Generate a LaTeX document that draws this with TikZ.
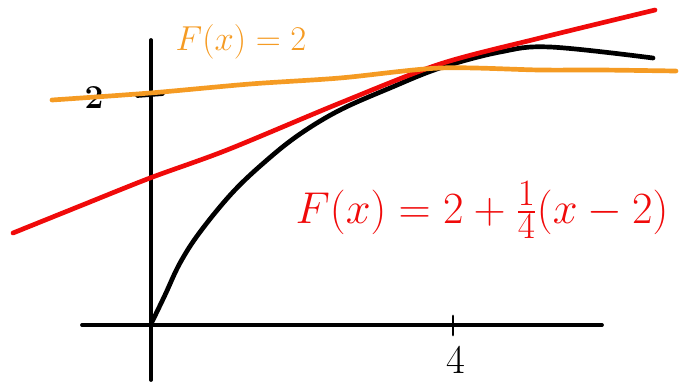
\documentclass[tikz,border=0pt]{standalone}
\usepackage{amsmath}
\usepackage{graphicx}
\usepackage{xcolor}
\usetikzlibrary{positioning}
\definecolor{sketchorange}{RGB}{245,155,35}
\definecolor{sketchred}{RGB}{240,10,10}
\tikzset{
  axis/.style={line width=3.2pt, line cap=round},
  curve/.style={line width=4pt, line cap=round, line join=round},
  lbl/.style={inner sep=0pt, font=\fontsize{24.88}{27}\selectfont}
}

\begin{document}
\begin{tikzpicture}[x={(0.03cm,0)}, y={(0,-0.03cm)}]
    \useasboundingbox (0,0) rectangle (679,382);
    \coordinate (O) at (151,325);
    \coordinate (xl) at (82,325);
    \coordinate (xr) at (602,325);
    \coordinate (yt) at (151,40);
    \coordinate (yb) at (151,380);
    \draw[axis] (xl) -- (xr);
    \draw[axis] (yt) -- (yb);
    \draw[axis] (137,96) -- (163,94);
    \draw[axis, line width=2.5pt] (453,316) -- (453,335);
    \node[lbl] (two) at (94,97) {\scalebox{1.15}{\textbf{2}}};
    \node[lbl] (four) at (456,360) {\scalebox{1.4}{4}};

    \draw[curve, black] plot[smooth, tension=0.6] coordinates {(152,322) (165,295) (180,263) (200,232) (233,192) (267,160) (300,134) (340,110) (390,88) (440,68) (500,52) (550,47) (653,58)};
    \draw[curve, sketchred] plot[smooth] coordinates {(13,233) (80,206) (150,178) (227,150) (340,103) (440,64) (540,38) (655,10)};
    \draw[curve, sketchorange] plot[smooth] coordinates {(52,100) (150,93) (250,84) (340,78) (440,68) (540,70) (600,70) (676,71)};

    \node[lbl, text=sketchorange] (flat) at (241,42) {\scalebox{1.19}{$F(x) = 2$}};
    \node[lbl, text=sketchred] (tangent) at (482,210) {\scalebox{1.53}{$F(x) = 2 + \frac{1}{4}(x-2)$}};
\end{tikzpicture}
\end{document}
